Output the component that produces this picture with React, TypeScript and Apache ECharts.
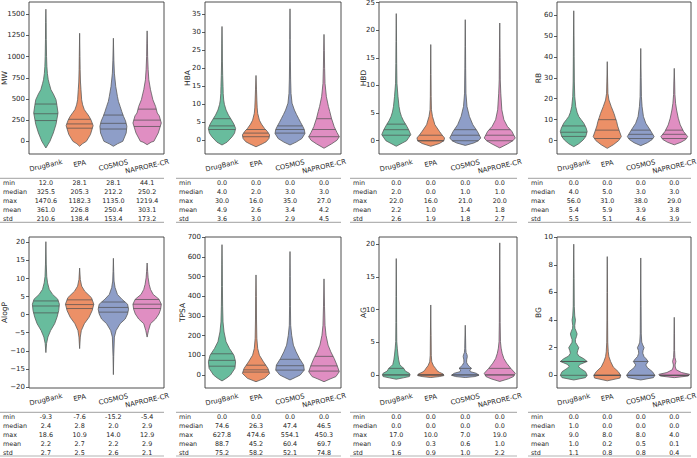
import React, { useEffect, useRef } from "react";
import * as echarts from "echarts";

// ---- data ---------------------------------------------------------------
const datasets = ["DrugBank", "EPA", "COSMOS", "NAPRORE-CR"];
const statNames = ["min", "median", "max", "mean", "std"];
const propertyNames = ["MW", "HBA", "HBD", "RB", "AlogP", "TPSA", "AG", "BG"];

// summary tables: rows follow statNames, columns follow datasets
const mwStats = [[12.0, 28.1, 28.1, 44.1], [325.5, 205.3, 212.2, 250.2], [1470.6, 1182.3, 1135.0, 1219.4], [361.0, 226.8, 250.4, 303.1], [210.6, 138.4, 153.4, 173.2]];
const hbaStats = [[0, 0, 0, 0], [4, 2, 3, 3], [30, 16, 35, 27], [4.9, 2.6, 3.4, 4.2], [3.6, 3.0, 2.9, 4.5]];
const hbdStats = [[0, 0, 0, 0], [2, 0, 1, 1], [22, 16, 21, 20], [2.2, 1.0, 1.4, 1.8], [2.6, 1.9, 1.8, 2.7]];
const rbStats = [[0, 0, 0, 0], [4, 5, 3, 3], [56, 31, 38, 29], [5.4, 5.9, 3.9, 3.8], [5.5, 5.1, 4.6, 3.9]];
const alogpStats = [[-9.3, -7.6, -15.2, -5.4], [2.4, 2.8, 2.0, 2.9], [18.6, 10.9, 14.0, 12.9], [2.2, 2.7, 2.2, 2.9], [2.7, 2.5, 2.6, 2.1]];
const tpsaStats = [[0, 0, 0, 0], [74.6, 26.3, 47.4, 46.5], [627.8, 474.6, 554.1, 450.3], [88.7, 45.2, 60.4, 69.7], [75.2, 58.2, 52.1, 74.8]];
const agStats = [[0, 0, 0, 0], [0, 0, 0, 0], [17, 10, 7, 19], [0.9, 0.3, 0.6, 1.0], [1.6, 0.9, 1.0, 2.2]];
const bgStats = [[0, 0, 0, 0], [1, 0, 0, 0], [9, 8, 8, 4], [1.0, 0.2, 0.5, 0.1], [1.1, 0.8, 0.8, 0.4]];

// lower / upper quartiles per dataset
const mwQ1 = [245, 155, 145, 175];
const mwQ3 = [440, 260, 310, 380];
const hbaQ1 = [3, 1, 2, 1];
const hbaQ3 = [6, 3, 4, 6];
const hbdQ1 = [1, 0, 0, 0];
const hbdQ3 = [3, 1, 2, 2];
const rbQ1 = [2, 1, 1, 1];
const rbQ3 = [7, 10, 5, 5];
const alogpQ1 = [0.5, 1.7, 0.7, 1.7];
const alogpQ3 = [3.8, 4.1, 3.5, 4.2];
const tpsaQ1 = [45, 15, 25, 20];
const tpsaQ3 = [108, 50, 80, 95];
const agQ1 = [0, 0, 0, 0];
const agQ3 = [1, 0, 1, 1];
const bgQ1 = [0, 0, 0, 0];
const bgQ3 = [1, 0, 1, 0];

// kernel density outlines: [value, density] from lower to upper end
const mwDensity = [
  [[-79, 0], [-40, 6], [0, 12], [98, 22], [200, 30], [334, 36], [420, 33], [491, 30], [560, 22], [609, 15], [680, 10], [727, 7], [800, 4.5], [884, 3], [1000, 2], [1200, 1.2], [1400, 0.8], [1560, 0]],
  [[-59, 0], [-30, 8], [0, 20], [80, 32], [185, 40], [250, 34], [295, 28], [340, 20], [373, 14], [430, 9], [490, 6], [610, 4], [700, 2.5], [850, 1.5], [1000, 1], [1276, 0]],
  [[-59, 0], [-30, 12], [0, 28], [98, 38], [177, 40], [240, 36], [295, 30], [350, 25], [412, 20], [470, 15], [530, 12], [648, 7], [805, 3], [950, 1.5], [1217, 0]],
  [[-40, 0], [-10, 12], [0, 20], [98, 33], [216, 42], [300, 36], [334, 30], [412, 25], [491, 17], [560, 13], [609, 10], [727, 5], [850, 3], [1000, 1.5], [1150, 1], [1304, 0]],
];
const hbaDensity = [
  [[-1.3, 0], [-0.5, 15], [1, 30], [2, 37], [3.3, 40], [4.5, 35], [6.1, 25], [7, 19], [8.4, 12], [10, 7], [11.2, 5], [13, 3.5], [15, 3], [18, 2], [22, 1.2], [27, 0.8], [31.6, 0]],
  [[-1.8, 0], [-1, 18], [-0.4, 30], [0.5, 38], [1.5, 40], [2.5, 33], [3.3, 25], [4.5, 16], [5.6, 10], [7.5, 5], [9, 3.5], [11.2, 2.5], [14, 1.5], [18, 0]],
  [[-1.3, 0], [-0.5, 18], [0.5, 35], [1.9, 44], [3, 42], [3.8, 38], [5, 31], [6.1, 25], [7.2, 19], [8.4, 13], [10.3, 6], [13, 3], [17, 1.8], [22, 1.2], [28, 0.8], [36.5, 0]],
  [[-2.2, 0], [-1, 22], [0, 38], [1, 45], [2.2, 38], [3.8, 30], [6.1, 22], [8, 17], [9.4, 13], [12.1, 7], [15.8, 3], [20, 1.8], [25, 1], [29.4, 0]],
];
const hbdDensity = [
  [[-1, 0], [-0.4, 18], [0, 30], [1.1, 42], [2, 36], [2.9, 28], [3.6, 21], [4.4, 15], [5.2, 11], [6.2, 8], [8, 5], [10.4, 2], [14, 1.2], [18, 0.8], [23, 0]],
  [[-1, 0], [-0.5, 25], [0, 38], [0.5, 40], [1.1, 32], [1.7, 25], [2.9, 12], [4.4, 5], [5.6, 2], [8, 1.2], [12, 0.8], [17.4, 0]],
  [[-0.85, 0], [-0.4, 25], [0, 38], [0.5, 45], [1.1, 40], [1.7, 35], [2.9, 22], [4.4, 12], [6.2, 5], [8.6, 2], [13, 1.2], [17, 0.8], [21.9, 0]],
  [[-1.3, 0], [-0.6, 22], [0, 38], [0.5, 45], [1.1, 40], [1.7, 35], [2.6, 22], [3.8, 12], [5.6, 6], [8.6, 3], [11, 1.5], [15, 1], [21.3, 0]],
];
const rbDensity = [
  [[-2.9, 0], [-1.5, 15], [0.3, 28], [2, 36], [4.3, 40], [6, 37], [8.3, 30], [10, 22], [11.5, 15], [13.5, 10], [16.2, 6], [21, 3], [28, 1.8], [40, 1.2], [50, 0.8], [62, 0]],
  [[-3.7, 0], [-2, 18], [0, 34], [1.9, 42], [5.1, 35], [7, 31], [9.1, 28], [11, 24], [13, 20], [16.2, 12], [19.4, 5], [22.6, 2], [28, 1.2], [37.7, 0]],
  [[-2.4, 0], [-1, 20], [0.5, 34], [1.9, 40], [3.5, 34], [5.1, 28], [8.3, 15], [11.5, 8], [16.2, 4], [21, 2], [30, 1.2], [44, 0]],
  [[-2, 0], [-0.8, 20], [0.5, 34], [1.9, 40], [4.3, 28], [7.5, 18], [10.7, 12], [14.6, 7], [17.8, 4], [22, 2], [28, 1.2], [34.5, 0]],
];
const alogpDensity = [
  [[-10.5, 0], [-8, 2], [-6.2, 6], [-4.4, 14], [-2.5, 26], [-0.7, 33], [1.1, 38], [2.9, 40], [4.3, 35], [5.6, 20], [7, 10], [8.8, 5], [10.6, 2.5], [14, 1.2], [20.2, 0]],
  [[-9.4, 0], [-7, 1.5], [-6.2, 2], [-4.4, 5], [-2.5, 14], [-0.7, 28], [1.1, 37], [2.9, 42], [4.7, 35], [6.5, 15], [7.9, 6], [9.7, 2], [12.9, 0]],
  [[-16.6, 0], [-11.6, 1], [-6.2, 3], [-4.4, 8], [-2.5, 20], [-1.2, 35], [0.2, 42], [1.5, 45], [2.9, 42], [4.3, 25], [5.6, 12], [7.5, 5], [9.3, 2], [12, 1], [15.6, 0]],
  [[-6.2, 0], [-4.4, 4], [-2.5, 10], [-1.2, 25], [0.2, 35], [1.5, 40], [2.9, 42], [4.3, 35], [5.6, 18], [7, 10], [8.4, 6], [10.2, 3], [12, 1.5], [14.3, 0]],
];
const tpsaDensity = [
  [[-30, 0], [-15, 14], [0, 25], [34, 38], [67, 40], [101, 35], [135, 22], [169, 12], [219, 6], [270, 3], [350, 1.8], [450, 1.2], [560, 0.8], [663, 0]],
  [[-34, 0], [-17, 25], [8, 40], [34, 35], [67, 22], [101, 10], [135, 5], [186, 2.5], [280, 1.5], [400, 1], [509, 0]],
  [[-25, 0], [-12, 16], [0, 30], [25, 42], [51, 40], [84, 28], [118, 18], [152, 10], [202, 5], [253, 2], [350, 1.2], [500, 0.8], [628, 0]],
  [[-34, 0], [-20, 18], [-8, 35], [17, 45], [51, 38], [84, 30], [118, 20], [152, 12], [202, 6], [253, 3], [350, 1.5], [489, 0]],
];
const agDensity = [
  [[-0.66, 0], [-0.45, 20], [-0.25, 38], [0.05, 40], [0.25, 38], [0.6, 26], [1.0, 22], [1.3, 15], [1.6, 10], [2.3, 7], [3.05, 5], [4.1, 3], [5.1, 1.5], [8, 1], [12, 0.8], [17.8, 0]],
  [[-0.4, 0], [-0.25, 25], [-0.1, 38], [0.15, 36], [0.4, 25], [0.66, 18], [1.0, 14], [1.4, 8], [2, 3], [3, 1.5], [6, 1], [10.7, 0]],
  [[-0.4, 0], [-0.25, 28], [-0.05, 40], [0.25, 32], [0.5, 15], [0.75, 13], [1.0, 18], [1.3, 12], [1.5, 8], [1.9, 4], [2.3, 4], [2.8, 6], [3.1, 5], [3.4, 2.5], [4, 1.5], [5.5, 1], [7.6, 0]],
  [[-1, 0], [-0.6, 25], [-0.25, 40], [0.25, 45], [1, 32], [1.8, 20], [2.5, 12], [3.3, 7], [4.1, 4], [5.1, 2], [8, 1.2], [13, 0.9], [20.2, 0]],
];
const bgDensity = [
  [[-0.34, 0], [-0.17, 35], [0, 40], [0.26, 35], [0.5, 20], [0.65, 13], [0.8, 20], [1, 40], [1.2, 30], [1.4, 15], [1.6, 10], [1.8, 12], [2, 15], [2.2, 10], [2.4, 5], [2.6, 5], [2.8, 8], [3, 10], [3.2, 7], [3.4, 3.5], [3.6, 3], [4, 5], [4.3, 3], [5, 1.5], [7, 1], [9.5, 0]],
  [[-0.4, 0], [-0.2, 38], [0, 40], [0.26, 33], [0.6, 18], [1, 10], [1.35, 5], [1.7, 3], [2.4, 1.5], [4, 1], [6, 0.8], [8.6, 0]],
  [[-0.34, 0], [-0.17, 38], [0, 42], [0.26, 35], [0.55, 20], [0.75, 15], [1, 22], [1.2, 16], [1.35, 10], [1.6, 6], [1.8, 7], [2, 10], [2.2, 6], [2.4, 3], [3, 1.5], [5, 1], [8.5, 0]],
  [[-0.17, 0], [-0.05, 42], [0.07, 46], [0.2, 22], [0.4, 6], [0.6, 3], [0.75, 2.5], [0.9, 4], [1, 5], [1.1, 4], [1.3, 2], [1.8, 1], [3, 0.8], [4.2, 0]],
];

// value axis limits and tick labels
const mwRange = [-150, 1645];
const mwTicks = [0, 250, 500, 750, 1000, 1250, 1500];
const hbaRange = [-3.8, 38.4];
const hbaTicks = [0, 5, 10, 15, 20, 25, 30, 35];
const hbdRange = [-2.4, 25.1];
const hbdTicks = [0, 5, 10, 15, 20, 25];
const rbRange = [-6.4, 66.2];
const rbTicks = [0, 10, 20, 30, 40, 50, 60];
const alogpRange = [-20.3, 21.5];
const alogpTicks = [-20, -15, -10, -5, 0, 5, 10, 15, 20];
const tpsaRange = [-66, 702];
const tpsaTicks = [0, 100, 200, 300, 400, 500, 600, 700];
const agRange = [-2.0, 21.1];
const agTicks = [0, 5, 10, 15, 20];
const bgRange = [-0.92, 10.02];
const bgTicks = [0, 2, 4, 6, 8, 10];

const panelStats = [mwStats, hbaStats, hbdStats, rbStats, alogpStats, tpsaStats, agStats, bgStats];
const panelQ1 = [mwQ1, hbaQ1, hbdQ1, rbQ1, alogpQ1, tpsaQ1, agQ1, bgQ1];
const panelQ3 = [mwQ3, hbaQ3, hbdQ3, rbQ3, alogpQ3, tpsaQ3, agQ3, bgQ3];
const panelDensity = [mwDensity, hbaDensity, hbdDensity, rbDensity, alogpDensity, tpsaDensity, agDensity, bgDensity];
const panelRange = [mwRange, hbaRange, hbdRange, rbRange, alogpRange, tpsaRange, agRange, bgRange];
const panelTicks = [mwTicks, hbaTicks, hbdTicks, rbTicks, alogpTicks, tpsaTicks, agTicks, bgTicks];

// ---- layout & style -----------------------------------------------------
const FONT = "DejaVu Sans, Verdana, sans-serif";
const TEXT = "#262626";
const PALETTE = ["#68bc9d", "#ec9067", "#8e9ec8", "#e08ec2"];
const EDGE = "#5c5c5c";
const COL_LEFT = [29, 205, 379, 557];
const COL_RIGHT = [164, 341, 517, 691];
const ROW_TOP = [2, 237];
const ROW_BOTTOM = [154, 388];
const NAME_GAP = [21, 14, 12, 14.3, 20.5, 18.7, 12, 14.3];
const TABLE_LINE_TOP = [178.3, 412.3];
const TABLE_FIRST_ROW = [182.7, 416.7];
const TABLE_LINE_BOTTOM = [222.3, 456];
const TABLE_ROW_STEP = 9;
// distance from the plot's lower edge to the centre of each rotated category label
const LABEL_DROP = [11.8, 9.8, 11.4, 12.6];
const LABEL_ROTATE = (13 * Math.PI) / 180;
const DENSITY_PEAK = 45;

const minus = (v: number) => String(v).replace("-", "\u2212");

function densityAt(pts: number[][], v: number) {
  if (v <= pts[0][0]) return pts[0][1];
  for (let k = 1; k < pts.length; k++) {
    if (v <= pts[k][0]) {
      const [v0, w0] = pts[k - 1];
      const [v1, w1] = pts[k];
      return w0 + ((w1 - w0) * (v - v0)) / (v1 - v0);
    }
  }
  return pts[pts.length - 1][1];
}

function violinRenderer(p: number) {
  const dens = panelDensity[p];
  const q1 = panelQ1[p];
  const q3 = panelQ3[p];
  const med = panelStats[p][1];
  return (params: any, api: any) => {
    const i = api.value(0);
    const pts = dens[i];
    const band = api.size([1, 0])[0];
    const maxHalf = band * 0.45;
    const right: number[][] = [];
    const left: number[][] = [];
    for (const [v, w] of pts) {
      const c = api.coord([i, v]);
      const h = (w / DENSITY_PEAK) * maxHalf;
      right.push([c[0] + h, c[1]]);
      left.push([c[0] - h, c[1]]);
    }
    const children: any[] = [
      {
        type: "polygon",
        shape: { points: right.concat(left.reverse()) },
        style: { fill: PALETTE[i], stroke: EDGE, lineWidth: 0.8 },
      },
    ];
    for (const q of [q1[i], med[i], q3[i]]) {
      const c = api.coord([i, q]);
      const h = (densityAt(pts, q) / DENSITY_PEAK) * maxHalf;
      children.push({
        type: "line",
        shape: { x1: c[0] - h, y1: c[1], x2: c[0] + h, y2: c[1] },
        style: { stroke: "#4f4f4f", lineWidth: 0.7 },
      });
    }
    return { type: "group", children };
  };
}

// plain text element for the tables and category names
function textEl(text: string, x: number, y: number, size: number, align: string, rotation = 0) {
  return {
    type: "text",
    x,
    y,
    rotation,
    silent: true,
    style: {
      text,
      fill: TEXT,
      stroke: "none",
      lineWidth: 0,
      fontSize: size,
      fontFamily: FONT,
      align,
      verticalAlign: "middle",
    },
  };
}

function buildOption() {
  const grid: any[] = [];
  const xAxis: any[] = [];
  const yAxis: any[] = [];
  const series: any[] = [];
  const graphic: any[] = [];

  propertyNames.forEach((name, p) => {
    const row = Math.floor(p / 4);
    const col = p % 4;
    const left = COL_LEFT[col];
    const right = COL_RIGHT[col];
    const top = ROW_TOP[row];
    const bottom = ROW_BOTTOM[row];
    const band = (right - left) / datasets.length;

    grid.push({
      left,
      top,
      width: right - left,
      height: bottom - top,
      show: true,
      borderColor: "#3a3a3a",
      borderWidth: 0.9,
      backgroundColor: "transparent",
      outerBoundsMode: "none",
    });

    xAxis.push({
      type: "category",
      gridIndex: p,
      data: datasets,
      axisLine: { show: false },
      axisTick: { show: true, alignWithLabel: true, length: 3, lineStyle: { color: "#333", width: 0.8 } },
      axisLabel: { show: false },
      splitLine: { show: false },
    });

    // rotated category names, centred under each tick
    datasets.forEach((d, i) => {
      graphic.push(textEl(d, left + (i + 0.5) * band, bottom + LABEL_DROP[i], 6.8, "center", LABEL_ROTATE));
    });

    const ticks = panelTicks[p];
    yAxis.push({
      type: "value",
      gridIndex: p,
      min: panelRange[p][0],
      max: panelRange[p][1],
      name,
      nameLocation: "middle",
      nameGap: NAME_GAP[p],
      nameRotate: 90,
      nameMoveOverlap: false,
      nameTextStyle: { fontSize: 7.5, fontFamily: FONT, color: TEXT },
      axisLine: { show: false },
      splitLine: { show: false },
      axisTick: { show: true, length: 3, customValues: ticks, lineStyle: { color: "#333", width: 0.8 } },
      axisLabel: {
        customValues: ticks,
        formatter: (v: number) => minus(v),
        fontSize: 7,
        fontFamily: FONT,
        color: TEXT,
        margin: 4,
      },
    });

    series.push({
      type: "custom",
      xAxisIndex: p,
      yAxisIndex: p,
      data: datasets.map((_, i) => [i, panelStats[p][1][i]]),
      renderItem: violinRenderer(p),
      silent: true,
    });

    // summary table below the panel
    const tableLeft = left - 29;
    const lineStyle = { stroke: "#b3b3b3", lineWidth: 1.2 };
    graphic.push({ type: "line", shape: { x1: tableLeft, y1: TABLE_LINE_TOP[row], x2: right, y2: TABLE_LINE_TOP[row] }, style: lineStyle, silent: true });
    graphic.push({ type: "line", shape: { x1: tableLeft, y1: TABLE_LINE_BOTTOM[row], x2: right, y2: TABLE_LINE_BOTTOM[row] }, style: lineStyle, silent: true });
    statNames.forEach((stat, r) => {
      const y = TABLE_FIRST_ROW[row] + r * TABLE_ROW_STEP;
      graphic.push(textEl(stat, left - 26, y, 6.4, "left"));
      datasets.forEach((_, i) => {
        graphic.push(textEl(panelStats[p][r][i].toFixed(1), left + (i + 0.5) * band, y, 6.4, "center"));
      });
    });
  });

  return {
    animation: false,
    backgroundColor: "#ffffff",
    grid,
    xAxis,
    yAxis,
    series,
    graphic: { elements: graphic },
  };
}

export default function App() {
  const ref = useRef<HTMLDivElement>(null);
  useEffect(() => {
    if (!ref.current) return;
    const chart = echarts.init(ref.current, null, { renderer: "svg" });
    chart.setOption(buildOption() as any);
    return () => chart.dispose();
  }, []);
  return (
    <div
      ref={ref}
      style={{ position: "fixed", left: 0, top: 0, width: 697, height: 458, background: "#fff" }}
    />
  );
}
